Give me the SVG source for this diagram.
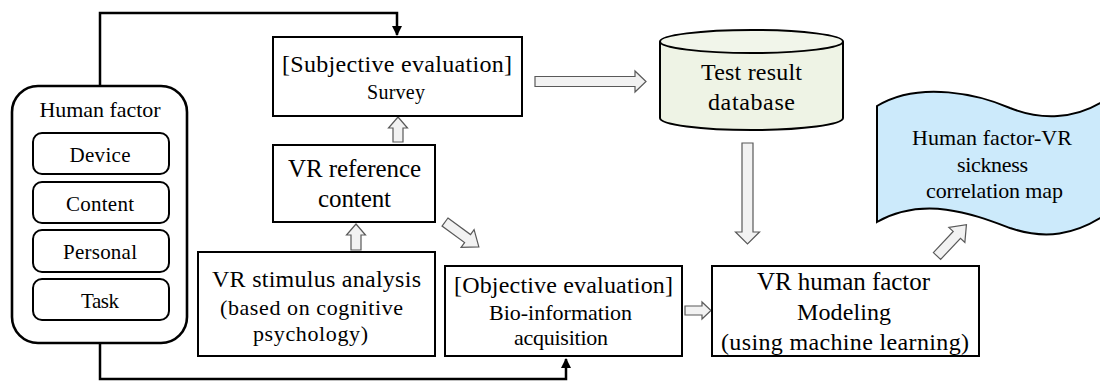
<svg xmlns="http://www.w3.org/2000/svg" width="1100" height="383" viewBox="0 0 1100 383">
<defs>
<style>
.box{fill:#ffffff;stroke:#000000;stroke-width:2}
.rbox{fill:#ffffff;stroke:#000000;stroke-width:2}
.outer{fill:#ffffff;stroke:#000000;stroke-width:2.6}
.blk{fill:#f2f2f2;stroke:#595959;stroke-width:1.2;stroke-linejoin:miter}
.line{fill:none;stroke:#000000;stroke-width:2.5}
text{font-family:"Liberation Serif","Times New Roman",serif;fill:#000000;text-anchor:middle}
.t25{font-size:25px}
.t24{font-size:24px}
.t22{font-size:22px}
.t21{font-size:21px}
.t20{font-size:20px}
</style>
<marker id="ah" viewBox="0 0 10 10" refX="9" refY="5" markerWidth="4" markerHeight="4" orient="auto" markerUnits="strokeWidth">
<path d="M0,0 L10,5 L0,10 Z" fill="#000000"/>
</marker>
</defs>
<rect width="1100" height="383" fill="#ffffff"/>

<g id="connectors">
<path class="line" d="M100,86 V13 H397 V35" marker-end="url(#ah)"/>
<path class="line" d="M100,343 V379 H566 V359" marker-end="url(#ah)"/>
<polygon class="blk" points="398,117 407.5,128 403,128 403,142 393,142 393,128 388.5,128"/>
<polygon class="blk" points="356,224 365.5,235 361,235 361,250 351,250 351,235 346.5,235"/>
<polygon class="blk" points="535,76.5 635,76.5 635,71 646,81.5 635,92 635,86.5 535,86.5"/>
<polygon class="blk" points="742,143 753,143 753,232 759.5,232 747.5,244 735.5,232 742,232"/>
<polygon class="blk" points="685,306 702,306 702,302 711,310.5 702,319 702,315 685,315"/>
<polygon class="blk" transform="translate(445,222) rotate(36.3)" points="0,-5 28,-5 28,-11 42,0 28,11 28,5 0,5"/>
<polygon class="blk" transform="translate(937,256) rotate(-46.8)" points="0,-5 29,-5 29,-11 43,0 29,11 29,5 0,5"/>
</g>

<g id="human-factor">
<rect class="outer" x="12" y="86" width="175" height="257" rx="26" ry="26"/>
<text class="t22" x="100" y="117" textLength="121">Human factor</text>
</g>
<g id="device">
<rect class="rbox" x="33" y="133" width="136" height="41" rx="9" ry="9"/>
<text class="t21" x="100" y="162" textLength="61">Device</text>
</g>
<g id="content">
<rect class="rbox" x="33" y="182" width="136" height="41" rx="9" ry="9"/>
<text class="t21" x="100" y="211" textLength="68">Content</text>
</g>
<g id="personal">
<rect class="rbox" x="33" y="230" width="136" height="42" rx="9" ry="9"/>
<text class="t21" x="100" y="259" textLength="74">Personal</text>
</g>
<g id="task">
<rect class="rbox" x="33" y="279" width="136" height="41" rx="9" ry="9"/>
<text class="t21" x="100" y="308" textLength="38">Task</text>
</g>

<g id="subjective">
<rect class="box" x="273" y="37" width="249" height="79"/>
<text class="t24" x="397" y="72" textLength="230">[Subjective evaluation]</text>
<text class="t20" x="396" y="99" textLength="58">Survey</text>
</g>

<g id="vr-reference">
<rect class="box" x="273" y="145" width="162" height="77"/>
<text class="t25" x="354.5" y="177" textLength="133">VR reference</text>
<text class="t25" x="354.5" y="207" textLength="73">content</text>
</g>

<g id="vr-stimulus">
<rect class="box" x="198" y="252" width="237" height="104"/>
<text class="t24" x="316.5" y="287" textLength="209">VR stimulus analysis</text>
<text class="t22" x="311.5" y="315" textLength="183">(based on cognitive</text>
<text class="t22" x="310.5" y="341" textLength="115">psychology)</text>
</g>

<g id="objective">
<rect class="box" x="445" y="266" width="237" height="90"/>
<text class="t24" x="563.5" y="293" textLength="219">[Objective evaluation]</text>
<text class="t22" x="560.5" y="320" textLength="143">Bio-information</text>
<text class="t22" x="561" y="345" textLength="94">acquisition</text>
</g>

<g id="modeling">
<rect class="box" x="712" y="266" width="267" height="90"/>
<text class="t25" x="843.5" y="290" textLength="173">VR human factor</text>
<text class="t24" x="844" y="320" textLength="94">Modeling</text>
<text class="t24" x="845" y="350" textLength="248">(using machine learning)</text>
</g>

<g id="database">
<path d="M660,41.5 V118 A91.5,12 0 0 0 843,118 V41.5" fill="#eef3e5" stroke="#000000" stroke-width="2"/>
<ellipse cx="751.5" cy="41.5" rx="91.5" ry="11.5" fill="#f1f5ea" stroke="#000000" stroke-width="2"/>
<text class="t24" x="751.5" y="80" textLength="101">Test result</text>
<text class="t24" x="751.5" y="110" textLength="87">database</text>
</g>

<g id="correlation-map">
<path d="M877,106 C920,80 980,95 1010,108 C1040,120 1075,120 1105,100 L1105,215 C1075,235 1045,240 1010,228 C975,215 925,195 877,222 Z" fill="#cceafb" stroke="#000000" stroke-width="2"/>
<text class="t22" x="992" y="145" textLength="160">Human factor-VR</text>
<text class="t22" x="992.5" y="172" textLength="71">sickness</text>
<text class="t22" x="994.5" y="198" textLength="137">correlation map</text>
</g>
</svg>
